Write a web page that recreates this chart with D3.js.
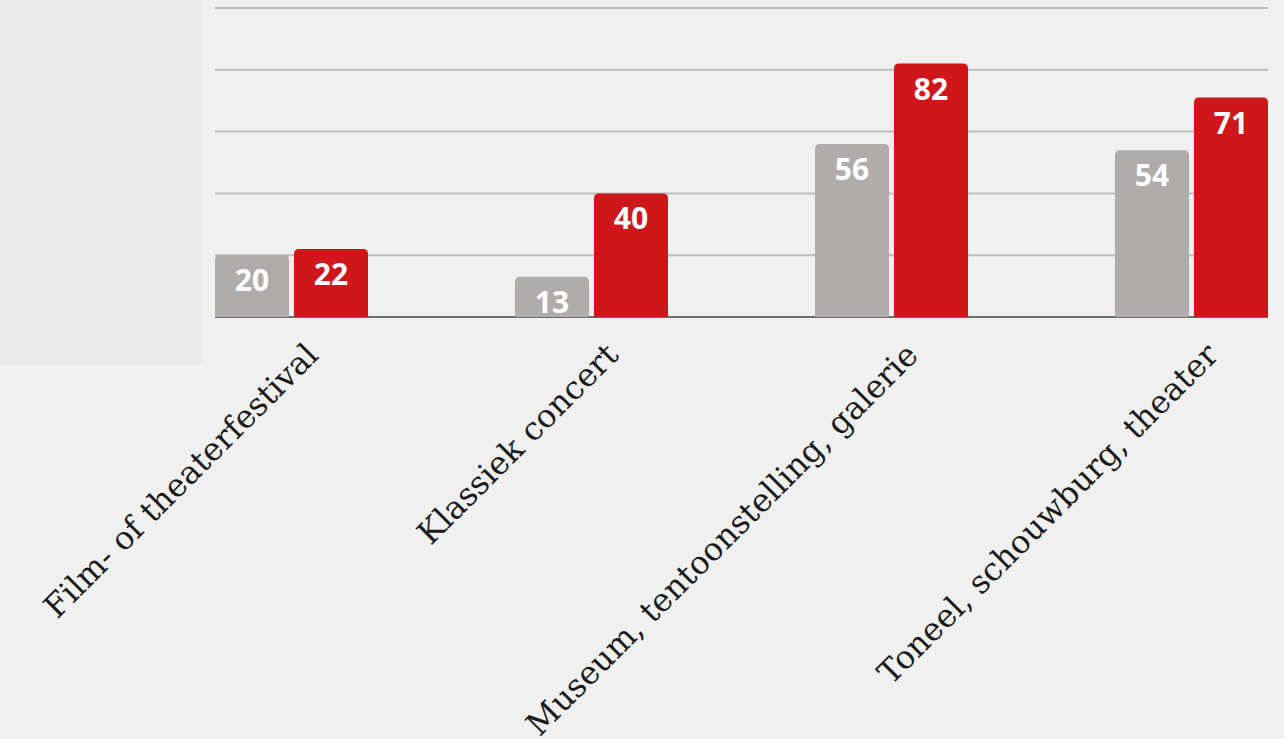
<!DOCTYPE html>
<html>
<head>
<meta charset="utf-8">
<script src="https://cdn.jsdelivr.net/npm/d3@7"></script>
<style>
  html, body { margin: 0; padding: 0; background: #f0f0f0; }
  svg { display: block; }
  .cat_lbl { font-family: "DejaVu Serif", serif; font-size: 32px; fill: #1a1a1a; }
  .val_lbl { font-family: "Noto Sans", sans-serif; font-weight: 700; font-size: 30px; fill: #fff; }
</style>
</head>
<body>
<svg id="chart" width="1284" height="739"></svg>
<script>
// data
var categories = ["Film- of theaterfestival", "Klassiek concert", "Museum, tentoonstelling, galerie", "Toneel, schouwburg, theater"]
var series = ["s1", "s2"]
var values_s1 = [20, 13, 56, 54]
var values_s2 = [22, 40, 82, 71]
var y_ticks = [20, 40, 60, 80, 100]

var colors = { s1: "#b0acab", s2: "#cf171b" }

var svg = d3.select("#chart")

// faint left panel
svg.append("rect")
  .attr("x", 0).attr("y", 0)
  .attr("width", 203).attr("height", 365)
  .attr("fill", "#ebebeb")

var x0 = d3.scaleBand()
  .domain(categories)
  .range([215, 1415])
  .paddingInner(0).paddingOuter(0)
var x1 = d3.scaleBand()
  .domain(series)
  .range([0, 153])
  .paddingInner(0.0633)
var y = d3.scaleLinear()
  .domain([0, 100])
  .range([317, 8])

var plot_r = 1268

// gridlines
svg.append("g")
  .attr("class", "grid_g")
  .selectAll("line")
  .data(y_ticks)
  .join("line")
  .attr("x1", 215).attr("x2", plot_r)
  .attr("y1", d => y(d)).attr("y2", d => y(d))
  .attr("stroke", "#bdbdbd")
  .attr("stroke-width", 2)

// baseline
svg.append("line")
  .attr("x1", 215).attr("x2", plot_r)
  .attr("y1", y(0)).attr("y2", y(0))
  .attr("stroke", "#6b6b6b")
  .attr("stroke-width", 2)

var rows = categories.map((c, i) => ({ cat: c, s1: values_s1[i], s2: values_s2[i] }))

// bar path with rounded top corners
function bar_path(x, w, top, bottom, r) {
  return "M" + x + "," + bottom +
    "V" + (top + r) +
    "Q" + x + "," + top + " " + (x + r) + "," + top +
    "H" + (x + w - r) +
    "Q" + (x + w) + "," + top + " " + (x + w) + "," + (top + r) +
    "V" + bottom + "Z"
}

var groups = svg.append("g")
  .attr("class", "bars_g")
  .selectAll("g")
  .data(rows)
  .join("g")
  .attr("transform", d => "translate(" + x0(d.cat) + ",0)")

groups.selectAll("path")
  .data(d => series.map(s => ({ key: s, val: d[s] })))
  .join("path")
  .attr("d", d => bar_path(x1(d.key), x1.bandwidth(), y(d.val), y(0), 5))
  .attr("fill", d => colors[d.key])

groups.selectAll("text")
  .data(d => series.map(s => ({ key: s, val: d[s] })))
  .join("text")
  .attr("class", "val_lbl")
  .attr("text-anchor", "middle")
  .attr("x", d => x1(d.key) + x1.bandwidth() / 2)
  .attr("y", d => y(d.val) + 36)
  .text(d => d.val)

// category labels, rotated
svg.append("g")
  .attr("class", "cat_lbls_g")
  .selectAll("text")
  .data(categories)
  .join("text")
  .attr("class", "cat_lbl")
  .attr("text-anchor", "end")
  .attr("transform", d => "translate(" + (x0(d) + 76 + 29) + ",357) rotate(-45)")
  .text(d => d)
</script>
</body>
</html>
